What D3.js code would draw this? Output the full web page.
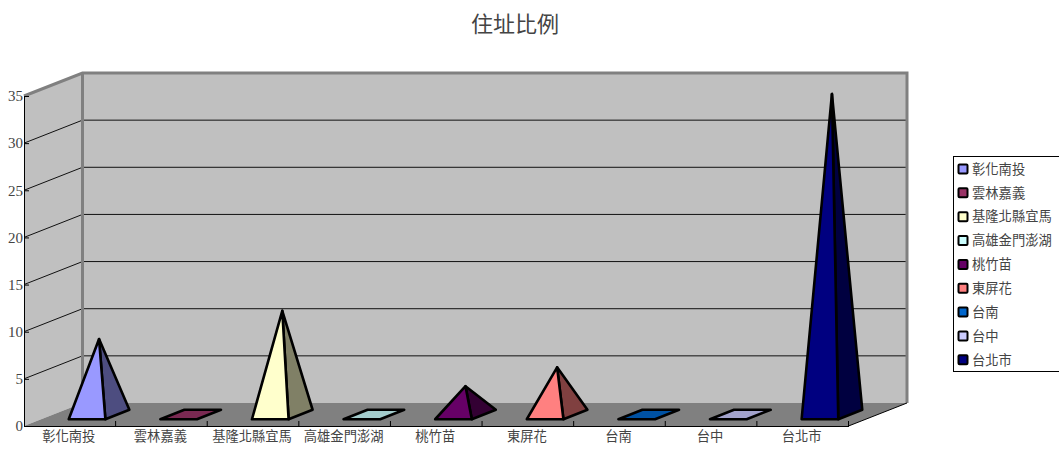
<!DOCTYPE html>
<html>
<head>
    <meta charset="utf-8">
    <script src="https://d3js.org/d3.v7.min.js"></script>
    <style>
        html, body { margin: 0; padding: 0; background: #fff; overflow: hidden; }
        text { font-family: "Liberation Serif", "Noto Sans CJK TC", serif; fill: #444; }
        .domain { stroke: #000; }
    </style>
</head>
<body>
    <svg id="chart" width="1059" height="450"></svg>
    <script>
        var categories = ["彰化南投", "雲林嘉義", "基隆北縣宜馬", "高雄金門澎湖", "桃竹苗", "東屏花", "台南", "台中", "台北市"];
        var values = [8, 0, 11, 0, 3, 5, 0, 0, 34];
        var colors = ["#9999ff", "#993366", "#ffffcc", "#ccffff", "#660066", "#ff8080", "#0066cc", "#ccccff", "#000080"];
        var yTicks = [0, 5, 10, 15, 20, 25, 30, 35];

        var svg = d3.select("#chart");
        var xScale = d3.scaleBand().domain(categories).range([24, 848.5]);
        var yScale = d3.scaleLinear().domain([0, 35]).range([426, 96]);
        var colorScale = d3.scaleOrdinal().domain(categories).range(colors);

        // depth of the 3d box
        var dx = 58.5, dy = -23;
        var line = d3.line();

        // title
        svg.append("text").attr("x", 515).attr("y", 32).attr("text-anchor", "middle")
            .style("font-size", "22px").text("住址比例");

        // walls and floor
        var x0 = xScale.range()[0], x1 = xScale.range()[1];
        var yTop = yScale(35), yBase = yScale(0);
        svg.append("path").attr("fill", "#c0c0c0")
            .attr("d", line([[x0, yTop], [x0 + dx, yTop + dy], [x0 + dx, yBase + dy], [x0, yBase]]) + "Z");
        svg.append("path").attr("fill", "#c0c0c0")
            .attr("d", line([[x0 + dx, yTop + dy], [x1 + dx, yTop + dy], [x1 + dx, yBase + dy], [x0 + dx, yBase + dy]]) + "Z");
        svg.append("path").attr("fill", "#808080")
            .attr("d", line([[x0, yBase], [x0 + dx, yBase + dy], [x1 + dx, yBase + dy], [x1, yBase]]) + "Z");

        // gridlines
        yTicks.filter(d => d > 0 && d < 35).forEach(function (d) {
            svg.append("path").attr("fill", "none").attr("stroke", "#111").attr("stroke-width", 1)
                .attr("d", line([[x0, yScale(d)], [x0 + dx, yScale(d) + dy], [x1 + dx, yScale(d) + dy]]));
        });

        // wall borders
        svg.append("path").attr("fill", "none").attr("stroke", "#808080").attr("stroke-width", 3)
            .attr("d", line([[x0, yTop], [x0 + dx, yTop + dy], [x1 + dx, yTop + dy], [x1 + dx, yBase + dy]]));
        svg.append("path").attr("fill", "none").attr("stroke", "#808080").attr("stroke-width", 3)
            .attr("d", line([[x0 + dx, yTop + dy], [x0 + dx, yBase + dy]]));
        svg.append("path").attr("fill", "none").attr("stroke", "#000").attr("stroke-width", 1)
            .attr("d", line([[x1, yBase], [x1 + dx, yBase + dy]]));

        // axes
        var yAxis = svg.append("g").attr("transform", `translate(${x0},0)`)
            .call(d3.axisLeft(yScale).tickValues(yTicks).tickSize(-5).tickSizeOuter(0).tickPadding(2));
        yAxis.selectAll("text").style("font-size", "15px").attr("x", -1);

        var xAxis = svg.append("g").attr("transform", `translate(-1,${yBase})`)
            .call(d3.axisBottom(xScale).tickSize(0).tickPadding(6));
        xAxis.select(".domain").attr("transform", "translate(1,0)");
        xAxis.selectAll("text").style("font-size", "13.3px");

        var xBounds = d3.range(1, categories.length + 1).map(i => x0 + i * xScale.step());
        svg.selectAll(".xtick").data(xBounds).enter().append("line").attr("class", "xtick")
            .attr("x1", d => d).attr("x2", d => d)
            .attr("y1", yBase - 5).attr("y2", yBase).attr("stroke", "#000");

        // pyramids
        var baseW = xScale.step() * 0.4;
        var pdx = 24, pdy = -9.5;
        var gap = (dx - pdx) / 2;
        var gapY = (dy - pdy) / 2;

        categories.forEach(function (c, i) {
            var cx = xScale(c) + xScale.step() / 2 + gap;
            var fy = yBase + gapY;
            var fl = [cx - baseW / 2, fy], fr = [cx + baseW / 2, fy];
            var br = [fr[0] + pdx, fy + pdy], bl = [fl[0] + pdx, fy + pdy];
            var col = d3.color(colorScale(c));
            var g = svg.append("g").attr("stroke", "#000").attr("stroke-width", 2.6).attr("stroke-linejoin", "round");
            if (values[i] === 0) {
                g.append("path").attr("fill", d3.rgb(col.r * 0.8, col.g * 0.8, col.b * 0.8))
                    .attr("d", line([fl, fr, br, bl]) + "Z");
            } else {
                var apex = [cx + pdx / 2, yScale(values[i]) + gapY + pdy / 2];
                g.append("path").attr("fill", d3.rgb(col.r * 0.5, col.g * 0.5, col.b * 0.5))
                    .attr("d", line([fr, br, apex]) + "Z");
                g.append("path").attr("fill", col)
                    .attr("d", line([fl, fr, apex]) + "Z");
            }
        });

        // legend
        svg.append("rect").attr("x", 953.5).attr("y", 156.5).attr("width", 120).attr("height", 215)
            .attr("fill", "#fff").attr("stroke", "#000");
        var legend = svg.selectAll(".legend").data(categories).enter().append("g").attr("class", "legend")
            .attr("transform", (d, i) => `translate(958, ${169 + 23.85 * i})`);
        legend.append("rect").attr("x", 0.5).attr("y", -4.5).attr("width", 9).attr("height", 9)
            .attr("rx", 1).attr("fill", d => colorScale(d)).attr("stroke", "#000").attr("stroke-width", 2);
        legend.append("text").attr("x", 14).attr("y", 0).attr("dy", "0.36em").style("font-size", "13.3px").text(d => d);
    </script>
</body>
</html>
